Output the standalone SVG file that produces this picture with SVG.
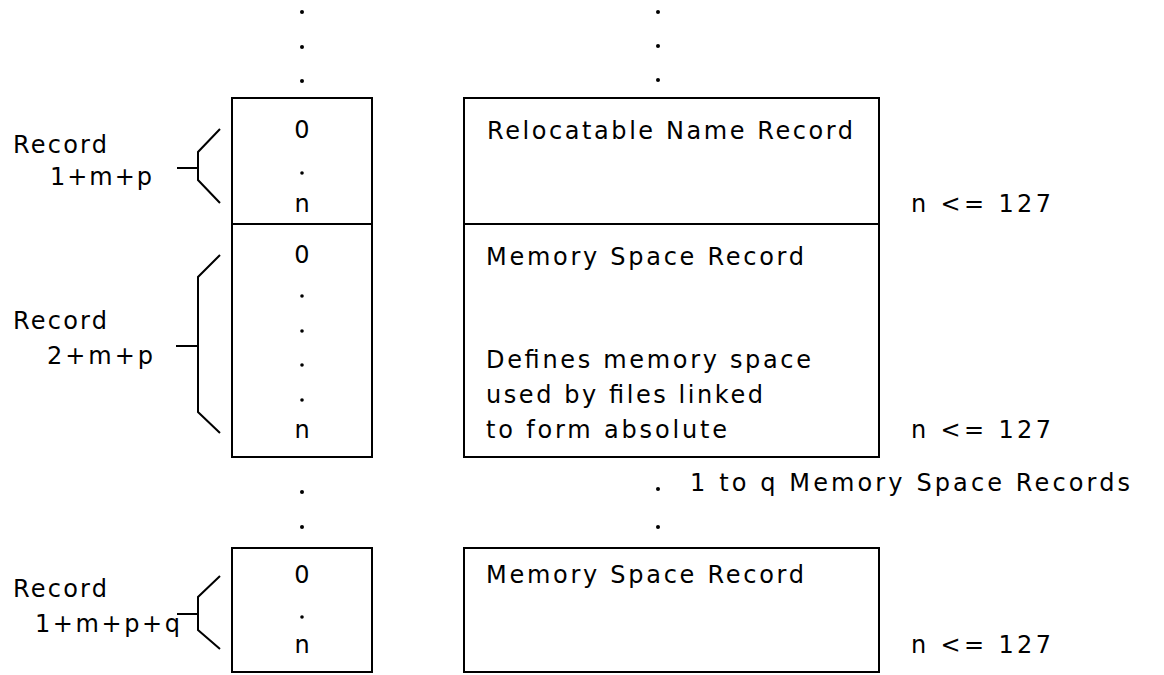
<svg xmlns="http://www.w3.org/2000/svg" width="1164" height="675" viewBox="0 0 1164 675">
<style>
  .box { fill: none; stroke: #000; stroke-width: 2; }
  .ln { fill: none; stroke: #000; stroke-width: 2; stroke-linejoin: miter; }
  text { font-family: "DejaVu Sans", "Liberation Sans", sans-serif; font-size: 24px; fill: #000; }
  .c { text-anchor: middle; }
  .dot { fill: #000; }
</style>
<rect width="1164" height="675" fill="#fff"/>

<g id="continuation-dots">
  <circle class="dot" cx="302" cy="12" r="2"/>
  <circle class="dot" cx="302" cy="47" r="2"/>
  <circle class="dot" cx="302" cy="81" r="2"/>
  <circle class="dot" cx="658" cy="12" r="2"/>
  <circle class="dot" cx="658" cy="46" r="2"/>
  <circle class="dot" cx="658" cy="80" r="2"/>
  <circle class="dot" cx="302" cy="492" r="2"/>
  <circle class="dot" cx="302" cy="527" r="2"/>
  <circle class="dot" cx="658" cy="489" r="2"/>
  <circle class="dot" cx="658" cy="527" r="2"/>
</g>

<g id="record-1mp-index">
  <path class="box" d="M232,98 H372 V224 H232 Z"/>
  <text class="c" x="302" y="138">0</text>
  <circle class="dot" cx="302" cy="173" r="1.8"/>
  <text class="c" x="302" y="212">n</text>
</g>
<g id="record-1mp-desc">
  <path class="box" d="M464,98 H879 V224 H464 Z"/>
  <text x="487" y="139" textLength="366" lengthAdjust="spacing">Relocatable Name Record</text>
</g>
<g id="record-1mp-label">
  <text x="13" y="153" textLength="94" lengthAdjust="spacing">Record</text>
  <text x="50" y="185" textLength="102" lengthAdjust="spacing">1+m+p</text>
  <text x="911" y="212" textLength="140" lengthAdjust="spacing">n &lt;= 127</text>
</g>

<g id="record-2mp-index">
  <path class="box" d="M232,224 H372 V457 H232 Z"/>
  <text class="c" x="302" y="263">0</text>
  <circle class="dot" cx="302" cy="296" r="1.8"/>
  <circle class="dot" cx="302" cy="331" r="1.8"/>
  <circle class="dot" cx="302" cy="365" r="1.8"/>
  <circle class="dot" cx="302" cy="400" r="1.8"/>
  <text class="c" x="302" y="438">n</text>
</g>
<g id="record-2mp-desc">
  <path class="box" d="M464,224 H879 V457 H464 Z"/>
  <text x="486" y="265" textLength="318" lengthAdjust="spacing">Memory Space Record</text>
  <text x="486" y="368" textLength="325" lengthAdjust="spacing">Defines memory space</text>
  <text x="486" y="403" textLength="277" lengthAdjust="spacing">used by files linked</text>
  <text x="486" y="438" textLength="241" lengthAdjust="spacing">to form absolute</text>
</g>
<g id="record-2mp-label">
  <text x="13" y="329" textLength="94" lengthAdjust="spacing">Record</text>
  <text x="47" y="364" textLength="106" lengthAdjust="spacing">2+m+p</text>
  <text x="911" y="438" textLength="140" lengthAdjust="spacing">n &lt;= 127</text>
</g>

<g id="repeat-note">
  <text x="690" y="491" textLength="440" lengthAdjust="spacing">1 to q Memory Space Records</text>
</g>

<g id="record-1mpq-index">
  <path class="box" d="M232,548 H372 V672 H232 Z"/>
  <text class="c" x="302" y="583">0</text>
  <circle class="dot" cx="302" cy="617" r="1.8"/>
  <text class="c" x="302" y="653">n</text>
</g>
<g id="record-1mpq-desc">
  <path class="box" d="M464,548 H879 V672 H464 Z"/>
  <text x="486" y="583" textLength="318" lengthAdjust="spacing">Memory Space Record</text>
</g>
<g id="record-1mpq-label">
  <text x="13" y="597" textLength="94" lengthAdjust="spacing">Record</text>
  <text x="35" y="632" textLength="145" lengthAdjust="spacing">1+m+p+q</text>
  <text x="911" y="653" textLength="140" lengthAdjust="spacing">n &lt;= 127</text>
</g>

<g id="connectors">
  <path class="ln" d="M220,129 L198,152 L198,180 L220,203"/>
  <path class="ln" d="M177,168 H198"/>
  <path class="ln" d="M220,255 L198,277 L198,412 L220,433"/>
  <path class="ln" d="M176,346 H198"/>
  <path class="ln" d="M220,576 L198,597 L198,630 L220,649"/>
  <path class="ln" d="M177,614 H198"/>
</g>
</svg>
